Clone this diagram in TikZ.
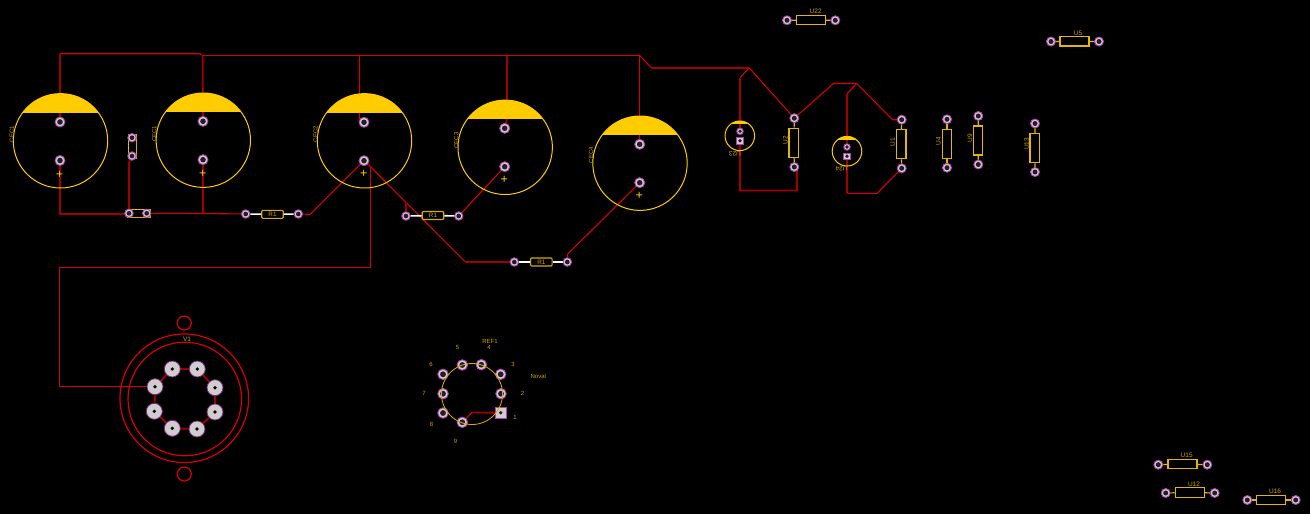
\documentclass[tikz,border=0pt]{standalone}
\usepackage{fontspec}
\setmainfont{Liberation Sans}
\usetikzlibrary{positioning,backgrounds}
\definecolor{capyellow}{HTML}{FFCC00}
\definecolor{silkdim}{HTML}{D8AC00}
\definecolor{labeldim}{HTML}{D0A400}
\definecolor{padfill}{HTML}{D0CCD0}
\definecolor{padring}{HTML}{B040B0}
\definecolor{padhole}{HTML}{202020}
\definecolor{netthin}{HTML}{D80000}
\definecolor{netthick}{HTML}{A00000}
\tikzset{
  pad/.style={circle, draw=padring, fill=padfill, line width=.9, minimum size=#1, inner sep=0,
    path picture={\fill[padhole] (path picture bounding box.center) circle (#1/3.6);}},
  pad/.default=10,
  bigpad/.style={circle, draw=padring!70!black, fill=padfill, line width=.8, minimum size=16, inner sep=0,
    path picture={\fill[black] (path picture bounding box.center) circle (1.8);}},
  sqpad/.style={rectangle, draw=padring, fill=padfill, line width=.9, minimum size=#1, inner sep=0,
    path picture={\fill[padhole] (path picture bounding box.center) circle (1.9);}},
  elcap/.style 2 args={circle, draw=capyellow, line width=1, minimum size=#1, inner sep=0,
    path picture={\fill[capyellow] (path picture bounding box.north west) rectangle ([yshift=-#2]path picture bounding box.north east);}},
  hbody/.style={rectangle, draw=capyellow!90!black, line width=1.2, minimum width=29, minimum height=9.5, inner sep=0},
  vbody/.style={rectangle, draw=capyellow!90!black, line width=1.2, minimum width=9.5, minimum height=29, inner sep=0},
  rbody/.style={rectangle, rounded corners=1, draw=silkdim, line width=1.1, minimum width=21.5, minimum height=8, inner sep=0},
  tinybody/.style={rectangle, draw=silkdim, line width=1.1, inner sep=0},
  lead/.style={draw=capyellow!90!black, line width=1.2},
  whitelead/.style={draw=white, line width=1.6},
  plusmark/.style={text=capyellow, inner sep=0, font=\fontsize{12.5}{12.5}\selectfont},
  lbl/.style={text=labeldim, inner sep=0, font=\fontsize{6}{6}\selectfont},
  ulbl/.style={text=labeldim, inner sep=0, font=\fontsize{6.5}{6.5}\selectfont},
  thin net/.style={draw=netthin, line width=1.1},
  thick net/.style={draw=netthick, line width=1.8},
  ring/.style={draw=netthin, line width=1.2, circle, inner sep=0, minimum size=#1},
}
\begin{document}
\begin{tikzpicture}[x=1pt, y=-1pt]
\useasboundingbox (0,0) rectangle (1310,514);
% electrolytic caps
\node[elcap={94.4}{19}] (cecA) at (60.5,140.8) {};
\node[elcap={94.4}{19}] (cecB) at (203.3,140.2) {};
\node[elcap={94.4}{19}] (cecC) at (364.5,140.8) {};
\node[elcap={94.4}{19}] (cecD) at (505.2,147.3) {};
\node[elcap={94.4}{19}] (cecE) at (640,163.2) {};
\node[pad] (cecAtop) at (60,122) {};
\node[pad] (cecAbot) at (60,160.5) {};
\node[pad] (cecBtop) at (203,121.3) {};
\node[pad] (cecBbot) at (203,159.7) {};
\node[pad] (cecCtop) at (364,122.3) {};
\node[pad] (cecCbot) at (364,160.7) {};
\node[pad] (cecDtop) at (504.7,128.3) {};
\node[pad] (cecDbot) at (504.7,166.7) {};
\node[pad] (cecEtop) at (639.7,144.3) {};
\node[pad] (cecEbot) at (639.7,182.7) {};
\node[plusmark] (plusA) at (59.5,174.5) {+};
\node[plusmark] (plusB) at (202.7,173.5) {+};
\node[plusmark] (plusC) at (363.7,174.3) {+};
\node[plusmark] (plusD) at (504.3,180.3) {+};
\node[plusmark] (plusE) at (639.3,196.3) {+};
\node[lbl, rotate=90] (cecAlbl) at (11.7,134) {CEC1};
\node[lbl, rotate=90] (cecBlbl) at (154.3,133.7) {CEC1};
\node[lbl, rotate=90] (cecClbl) at (315.5,134) {CEC2};
\node[lbl, rotate=90] (cecDlbl) at (456.3,140.5) {CEC3};
\node[lbl, rotate=90] (cecElbl) at (591,155) {CEC4};
% small parts by the first caps
\node[tinybody, minimum width=8, minimum height=24.5] (smallV) at (132.2,146.5) {};
\node[tinybody, minimum width=23.5, minimum height=8.5] (smallH) at (138.8,213.5) {};
\draw[draw=capyellow, line width=1.5, dotted] (smallV.north west) ++(.6,3) coordinate (smallVa) -- ++(0,16);
\draw[draw=capyellow, line width=1.5, dotted] (smallH.north west) ++(5,1) coordinate (smallHa) -- ++(14,0);
\node[pad=8.5] (smallVtop) at (132,137.7) {};
\node[pad=8.5] (smallVbot) at (132,156) {};
\node[pad=8.5] (smallHl) at (129,213.3) {};
\node[pad=8.5] (smallHr) at (146.7,213.3) {};
% R1 parts
\node[pad=8.5] (rAl) at (245.7,214) {};
\node[pad=8.5] (rAr) at (298.3,214) {};
\node[rbody] (rAb) at (272.5,214.3) {\fontsize{6.3}{6.3}\selectfont\textcolor{labeldim}{R1}};
\node[pad=8.5] (rBl) at (406,216) {};
\node[pad=8.5] (rBr) at (458.7,216) {};
\node[rbody] (rBb) at (433,215.5) {\fontsize{6.3}{6.3}\selectfont\textcolor{labeldim}{R1}};
\node[pad=8.5] (rCl) at (514.3,262) {};
\node[pad=8.5] (rCr) at (567.3,262) {};
\node[rbody] (rCb) at (541.3,262) {\fontsize{6.3}{6.3}\selectfont\textcolor{labeldim}{R1}};
\draw[whitelead] (rAl) -- (rAb);
\draw[whitelead] (rAb) -- (rAr);
\draw[whitelead] (rBl) -- (rBb);
\draw[whitelead] (rBb) -- (rBr);
\draw[whitelead] (rCl) -- (rCb);
\draw[whitelead] (rCb) -- (rCr);
% horizontal U parts
\node[pad=9] (uA) at (787,20.3) {};
\node[pad=9] (uB) at (835.3,20.3) {};
\node[hbody] (uCb) at (811,20) {};
\node[ulbl] (uClbl) at (815.7,11.7) {U22};
\draw[lead] (uA) -- (uCb);
\draw[lead] (uCb) -- (uB);
\node[pad=9] (vA) at (1051,41.5) {};
\node[pad=9] (vB) at (1099,41.5) {};
\node[hbody] (vCb) at (1074.5,41.3) {};
\node[ulbl] (vClbl) at (1078,33) {U5};
\draw[lead] (vA) -- (vCb);
\draw[lead] (vCb) -- (vB);
\node[pad=9] (wA) at (1158.3,464.7) {};
\node[pad=9] (wB) at (1207.3,464.7) {};
\node[hbody] (wCb) at (1182.5,464) {};
\node[ulbl] (wClbl) at (1186.7,455.7) {U15};
\draw[lead] (wA) -- (wCb);
\draw[lead] (wCb) -- (wB);
\node[pad=9] (xA) at (1165.7,493) {};
\node[pad=9] (xB) at (1214.7,493) {};
\node[hbody] (xCb) at (1189.8,492.5) {};
\node[ulbl] (xClbl) at (1194,484) {U12};
\draw[lead] (xA) -- (xCb);
\draw[lead] (xCb) -- (xB);
\node[pad=9] (yA) at (1247.3,500) {};
\node[pad=9] (yB) at (1295.7,500) {};
\node[hbody] (yCb) at (1271.3,500) {};
\node[ulbl] (yClbl) at (1275,491.3) {U16};
\draw[lead] (yA) -- (yCb);
\draw[lead] (yCb) -- (yB);
% vertical U parts
\node[pad=9] (utwoTop) at (794.3,118.2) {};
\node[pad=9] (utwoBot) at (794.3,167) {};
\node[vbody] (utwoB) at (793.8,142.8) {};
\node[ulbl, rotate=90] (utwoL) at (785.3,140) {U2};
\draw[lead] (utwoTop) -- (utwoB);
\draw[lead] (utwoB) -- (utwoBot);
\node[pad=9] (uoneTop) at (901.7,119.7) {};
\node[pad=9] (uoneBot) at (901.7,168.3) {};
\node[vbody] (uoneB) at (901.2,144.3) {};
\node[ulbl, rotate=90] (uoneL) at (892.7,142.3) {U1};
\draw[lead] (uoneTop) -- (uoneB);
\draw[lead] (uoneB) -- (uoneBot);
\node[pad=9] (ufourTop) at (947,119.3) {};
\node[pad=9] (ufourBot) at (947,167.7) {};
\node[vbody] (ufourB) at (947,143.8) {};
\node[ulbl, rotate=90] (ufourL) at (938.3,141) {U4};
\draw[lead] (ufourTop) -- (ufourB);
\draw[lead] (ufourB) -- (ufourBot);
\node[pad=9] (unineTop) at (978.3,116) {};
\node[pad=9] (unineBot) at (978.3,164.5) {};
\node[vbody] (unineB) at (978,140.5) {};
\node[ulbl, rotate=90] (unineL) at (970,138) {U9};
\draw[lead] (unineTop) -- (unineB);
\draw[lead] (unineB) -- (unineBot);
\node[pad=9] (uthirTop) at (1035,123.5) {};
\node[pad=9] (uthirBot) at (1035,172) {};
\node[vbody] (uthirB) at (1034.8,148.2) {};
\node[ulbl, rotate=90] (uthirL) at (1026.7,144) {U13};
\draw[lead] (uthirTop) -- (uthirB);
\draw[lead] (uthirB) -- (uthirBot);
% small round caps
\node[elcap={29.6}{3.3}] (capU) at (739.8,135.8) {};
\node[pad=6.5] (capUa) at (740,131.3) {};
\node[sqpad=6.5] (capUb) at (740,140.7) {};
\node[ulbl, rotate=180] (capUl) at (735,153.3) {U23};
\node[elcap={29.6}{3.3}] (capV) at (847,151.2) {};
\node[pad=6.5] (capVa) at (847,147) {};
\node[sqpad=6.5] (capVb) at (847,156.3) {};
\node[ulbl, rotate=180] (capVl) at (841.7,169) {U24};
% valve socket
\node[ring=128.6] (vOuter) at (184.3,398.3) {};
\node[ring=113.6] (vInner) at (184.8,399) {};
\node[ring=14] (vHoleT) at (184.3,323) {};
\node[ring=14] (vHoleB) at (184.3,474) {};
\node[ulbl] (vName) at (187,339.5) {V1};
\node[bigpad] (vpA) at (172.3,369) {};
\node[bigpad] (vpB) at (197.3,369) {};
\node[bigpad] (vpC) at (215,387.7) {};
\node[bigpad] (vpD) at (215,412) {};
\node[bigpad] (vpE) at (197,429) {};
\node[bigpad] (vpF) at (172.3,428.3) {};
\node[bigpad] (vpG) at (154.3,411.3) {};
\node[bigpad] (vpH) at (155,386.7) {};
% noval footprint
\node[pad=10.5] (refF) at (462.3,365) {};
\node[pad=10.5] (refE) at (481.3,364.7) {};
\node[pad=10.5] (refC) at (500.7,374.3) {};
\node[pad=10.5] (refB) at (501,393.7) {};
\node[sqpad=10.5] (refA) at (500.7,412.7) {};
\node[pad=10.5] (refI) at (462.3,422.3) {};
\node[pad=10.5] (refH) at (443,413) {};
\node[pad=10.5] (refG) at (443,393.7) {};
\node[pad=10.5] (refJ) at (443,374.3) {};
\node[circle, draw=silkdim, line width=.8, minimum size=61, inner sep=0] (refRing) at (472,394) {};
\node[lbl] (refName) at (490,341.7) {REF1};
\node[lbl] (refNoval) at (538.3,376.3) {Noval};
\node[lbl] (numFive) at (457.5,347.5) {5};
\node[lbl] (numFour) at (489,347.5) {4};
\node[lbl] (numSix) at (431,364) {6};
\node[lbl] (numThree) at (513,364) {3};
\node[lbl] (numSeven) at (424,393) {7};
\node[lbl] (numTwo) at (522.5,393) {2};
\node[lbl] (numEight) at (431.5,424) {8};
\node[lbl] (numOne) at (515,417) {1};
\node[lbl] (numNine) at (455.5,441) {9};
% junction points
\coordinate (jTop) at (202.7,55.5);
\coordinate (jCecC) at (359.3,55.5);
\coordinate (jCecD) at (507,55.5);
\coordinate (jCecE) at (639.7,55.5);
\coordinate (jFold) at (749.3,68);
\coordinate (jPeak) at (856.7,83.5);
\coordinate (jDiag) at (370.3,166.5);
\coordinate (jRb) at (405.9,202.5);
\coordinate (jLow) at (129,214.3);
\coordinate (jCecB) at (203,213.5);
\begin{scope}[on background layer]
\fill[black] (0,0) rectangle (1310,514);
% nets
\draw[thick net] (cecAtop) -- (60,53.7);
\draw[thin net] (60,53.7) -- (200,53.7) -- (jTop);
\draw[thick net] (jTop) -- (cecBtop);
\draw[thin net] (jTop) -- (jCecE);
\draw[thin net] (jCecC) -- (359.3,119) -- (cecCtop);
\draw[thick net] (jCecD) -- (507,119) -- (cecDtop);
\draw[thin net] (jCecE) -- (cecEtop);
\draw[thin net] (jCecE) -- (651.5,68);
\draw[thick net] (651.5,68) -- (jFold);
\draw[thick net] (cecAbot) -- (60,214.3) -- (jLow);
\draw[thick net] (jLow) -- (129,163) -- (smallVbot);
\draw[thin net] (smallHr) -- (jCecB);
\draw[thin net] (jCecB) -- (rAl);
\draw[thick net] (cecBbot) -- (jCecB);
\draw[thin net] (rAr) -- (310.3,214.3) -- (cecCbot);
\draw[thick net] (cecCbot) -- (jDiag);
\draw[thin net] (jDiag) -- (465.3,262);
\draw[thick net] (465.3,262) -- (rCl);
\draw[thin net] (jDiag) -- (370.3,267.3) -- (59.5,267.3) -- (59.5,386.7) -- (vpH);
\draw[thick net] (rBl) -- (jRb);
\draw[thin net] (rBr) -- (cecDbot);
\draw[thin net] (rCr) -- (567.3,254.5) -- (cecEbot);
\draw[thin net] (jFold) -- (utwoTop);
\draw[thin net] (jFold) -- (740,77.5);
\draw[thick net] (740,77.5) -- (capUa);
\draw[thick net] (capUb) -- (740,190.5) -- (797,190.5) -- (797,170) -- (utwoBot);
\draw[thin net] (utwoTop) -- (833.5,83.5) -- (jPeak);
\draw[thin net] (jPeak) -- (847,94);
\draw[thick net] (847,94) -- (capVa);
\draw[thick net] (capVb) -- (847,193.3);
\draw[thin net] (847,193.3) -- (877,193.3) -- (uoneBot);
\draw[thin net] (jPeak) -- (892.5,119.7) -- (uoneTop);
\draw[thick net] (vpA) -- (vpB);
\draw[thick net] (vpB) -- (vpC);
\draw[thick net] (vpC) -- (vpD);
\draw[thick net] (vpD) -- (vpE);
\draw[thick net] (vpE) -- (vpF);
\draw[thick net] (vpF) -- (vpG);
\draw[thick net] (vpG) -- (vpH);
\draw[thick net] (vpH) -- (vpA);
\draw[thick net] (refA) -- (472,412.5);
\draw[thin net] (472,412.5) -- (refI);
\end{scope}
\end{tikzpicture}
\end{document}
